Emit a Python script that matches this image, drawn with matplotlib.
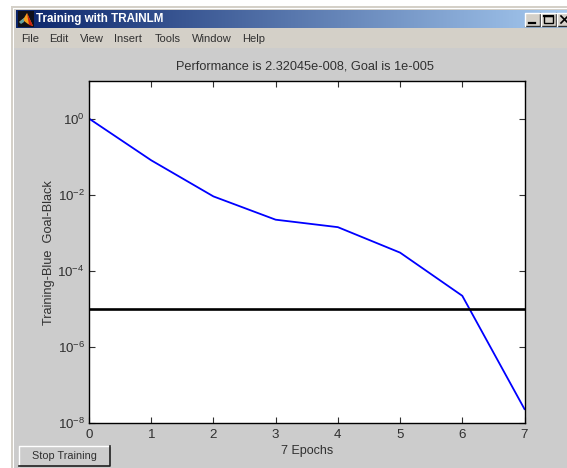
import numpy as np
import matplotlib
matplotlib.use("Agg")
import matplotlib.pyplot as plt
from matplotlib.patches import Rectangle, Polygon
from matplotlib.colors import LinearSegmentedColormap

# Values
epochs = [0, 1, 2, 3, 4, 5, 6, 7]
performance = [1.0, 0.08, 0.009, 0.0022, 0.0014, 0.0003, 0.000022, 2.32045e-8]
goal = 1e-5
x_ticks = [0, 1, 2, 3, 4, 5, 6, 7]
y_ticks = [1e0, 1e-2, 1e-4, 1e-6, 1e-8]
menu_items = ["File", "Edit", "View", "Insert", "Tools", "Window", "Help"]
menu_x = [21, 49, 80, 114, 155, 192, 242]

W, H = 567, 468
TEXT = "#303030"

plt.rcParams["font.family"] = ["Liberation Sans", "DejaVu Sans"]
plt.rcParams["mathtext.fontset"] = "custom"
plt.rcParams["mathtext.rm"] = "Liberation Sans"
plt.rcParams["mathtext.default"] = "regular"

fig = plt.figure(figsize=(W / 100, H / 100), dpi=100, facecolor="white")

# window chrome, drawn in pixel coordinates
bg = fig.add_axes([0, 0, 1, 1])
bg.set_xlim(0, W)
bg.set_ylim(H, 0)
bg.axis("off")

def box(x, y, w, h, color, **kw):
    bg.add_patch(Rectangle((x, y), w, h, facecolor=color, edgecolor="none", **kw))

box(11, 6, W - 11, H - 6, "#d4d0c8")
box(13, 8, W - 13, H - 8, "#ffffff")
box(14, 9, W - 14, H - 9, "#d4d0c8")
box(14, 48, W - 14, H - 48, "#cccccc")

cmap = LinearSegmentedColormap.from_list("title", ["#0a246a", "#a6caf0"])
bg.imshow(np.linspace(0, 1, 256).reshape(1, -1), cmap=cmap, aspect="auto",
          extent=(16, W, 28, 10), zorder=1)
bg.set_xlim(0, W)
bg.set_ylim(H, 0)

# matlab icon
box(18, 11, 16, 16, "#101018", zorder=2)
bg.add_patch(Polygon([(19, 22), (24, 18), (27, 13), (33, 26), (28, 24), (24, 21)],
                     facecolor="#f0a020", edgecolor="none", zorder=3))
bg.add_patch(Polygon([(27, 13), (33, 26), (29, 25)], facecolor="#d02010", edgecolor="none", zorder=3))
bg.add_patch(Polygon([(19, 22), (24, 18), (24, 22), (21, 24)], facecolor="#60a0a0", edgecolor="none", zorder=4))

bg.text(36, 19, "Training with TRAINLM", color="white", fontsize=8.4, fontweight="bold",
        va="center", ha="left", zorder=3)

# min / max / close buttons
for bx, glyph in zip([525, 541, 557], ["min", "max", "close"]):
    box(bx, 13, 15, 13, "#d4d0c8", zorder=2)
    bg.plot([bx, bx + 15, bx + 15], [26, 26, 13], color="#303030", lw=1, zorder=3)
    bg.plot([bx, bx, bx + 15], [26, 13, 13], color="white", lw=1, zorder=3)
    if glyph == "min":
        bg.plot([bx + 4, bx + 10], [22.5, 22.5], color="black", lw=1.6, zorder=4)
    elif glyph == "max":
        bg.add_patch(Rectangle((bx + 3, 15.5), 8.5, 7.5, fill=False, edgecolor="black", lw=1, zorder=4))
        bg.plot([bx + 3, bx + 11.5], [16, 16], color="black", lw=1.6, zorder=4)
    else:
        bg.plot([bx + 4, bx + 11], [16, 23], color="black", lw=1.2, zorder=4)
        bg.plot([bx + 4, bx + 11], [23, 16], color="black", lw=1.2, zorder=4)

for label, mx in zip(menu_items, menu_x):
    bg.text(mx, 38.5, label, color=TEXT, fontsize=8, va="center", ha="left")

# stop button
box(19, 446, 91, 20, "#cccccc", zorder=2)
bg.plot([19, 19, 110], [466, 446, 446], color="white", lw=1, zorder=3)
bg.plot([19, 110, 110], [466, 466, 446], color="#202020", lw=1.2, zorder=3)
bg.text(64, 456, "Stop Training", color=TEXT, fontsize=7.8, va="center", ha="center", zorder=4)

# the plot itself
left, right, top, bottom = 89, 524.5, 80.5, 423
ax = fig.add_axes([left / W, 1 - bottom / H, (right - left) / W, (bottom - top) / H])
ax.patch.set_facecolor("white")
ax.semilogy(epochs, performance, color="#0000ff", lw=1.3)
ax.axhline(goal, color="black", lw=1.9)
ax.set_xlim(0, 7)
ax.set_ylim(1e-8, 1e1)
ax.set_xticks(x_ticks)
ax.set_yticks(y_ticks)
ax.minorticks_off()
ax.tick_params(direction="in", length=4, width=0.8, top=True, right=True,
               labelsize=9.6, labelcolor=TEXT, color="#303030")
ax.tick_params(axis="x", pad=4)
ax.tick_params(axis="y", pad=3)
for s in ax.spines.values():
    s.set_linewidth(1.0)
ax.set_title("Performance is 2.32045e-008, Goal is 1e-005", fontsize=9.2, color=TEXT, pad=8,
             x=(305 - left) / (right - left))
ax.set_xlabel("7 Epochs", fontsize=9, color=TEXT, labelpad=3)
ax.set_ylabel("Training-Blue  Goal-Black", fontsize=9.2, color=TEXT)
ax.yaxis.set_label_coords((55 - left) / (right - left), 0.5 - (253 - (top + bottom) / 2) / (bottom - top))

fig.savefig("out.png", dpi=100)
